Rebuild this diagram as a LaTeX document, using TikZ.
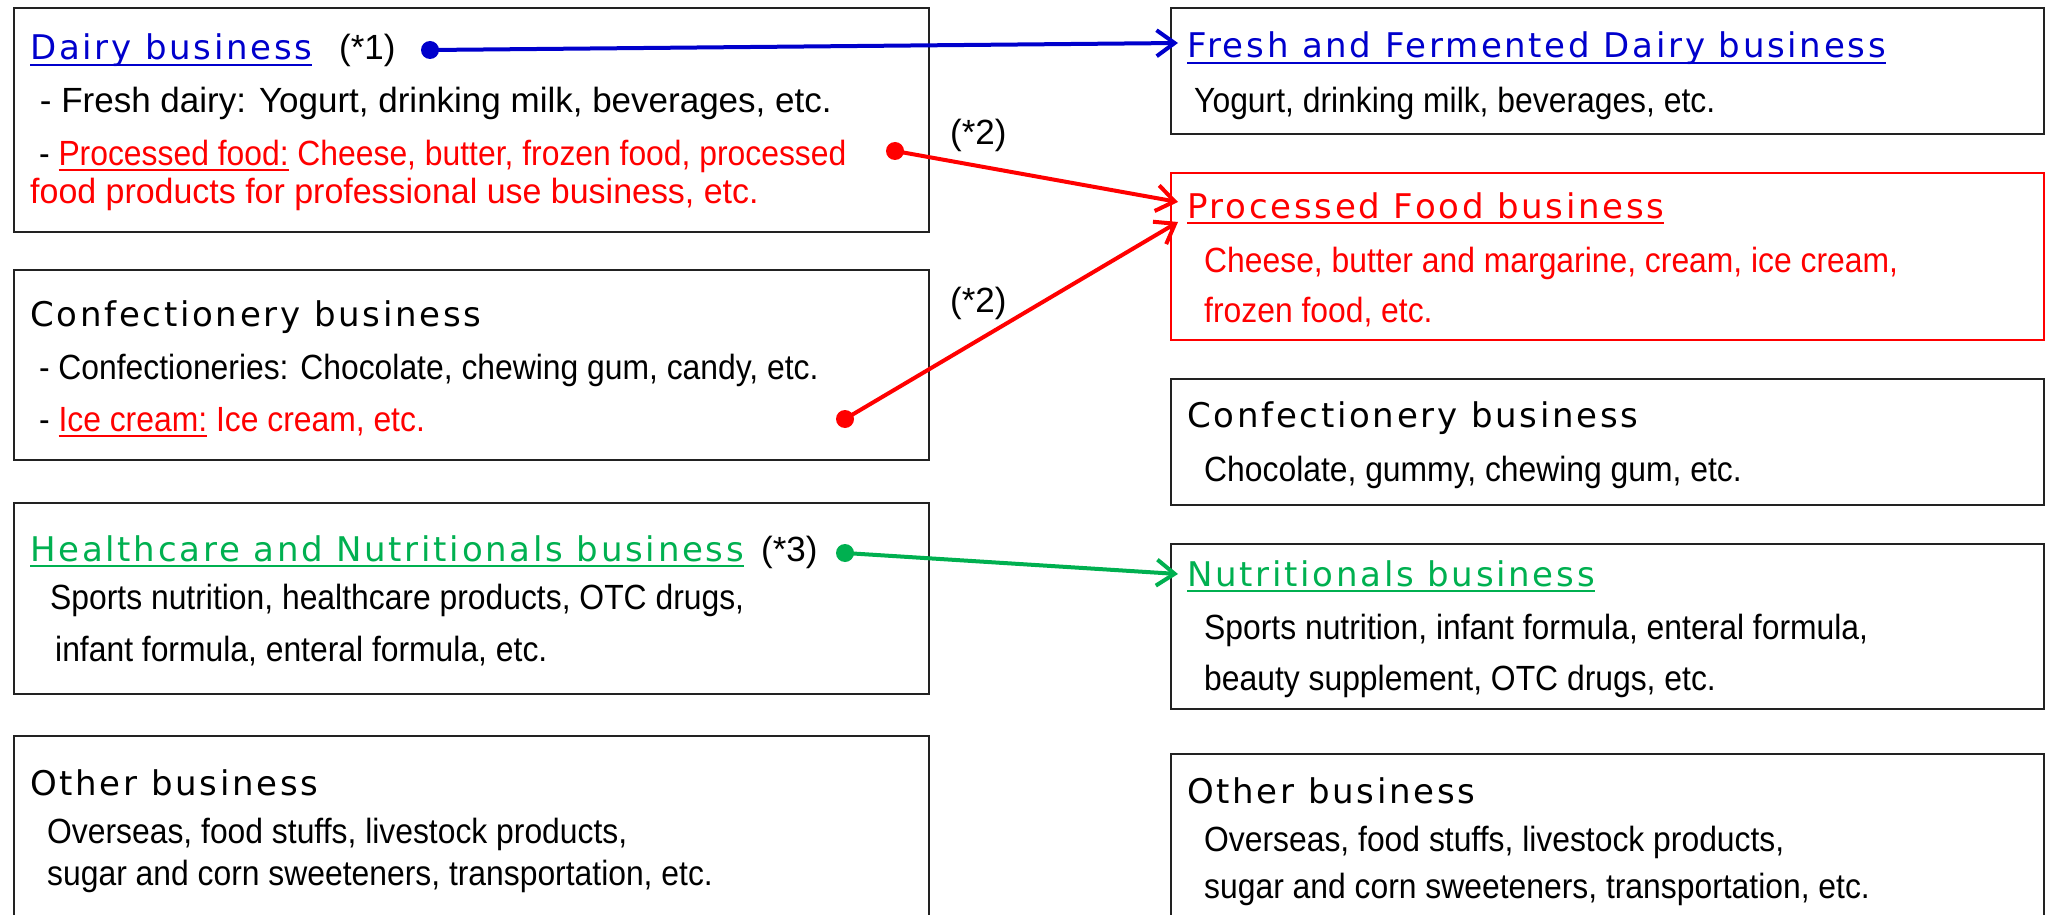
\documentclass[tikz,border=0pt]{standalone}
\usepackage{fontspec}
\setmainfont{Liberation Sans}[FakeStretch=0.91]
\newfontfamily\wfont{Liberation Sans}
\newfontfamily\mfont{Liberation Sans}[FakeStretch=0.97]
\newfontfamily\hfont{DejaVu Sans}[LetterSpace=8]
\usetikzlibrary{arrows.meta}
\definecolor{mblue}{RGB}{0,0,204}
\definecolor{mred}{RGB}{255,0,0}
\definecolor{mgreen}{RGB}{0,176,80}
\definecolor{border}{RGB}{34,34,34}
\newcommand\myul[1]{\setbox0=\hbox{#1}\rlap{\rule[-6pt]{\wd0}{2pt}}\box0\relax}
\begin{document}
\begin{tikzpicture}[x=1pt,y=-1pt,
 bx/.style={draw=border,line width=2pt,anchor=north west,minimum width=#1,inner sep=0},
 hd/.style={anchor=base west,inner sep=0,font=\hfont\fontsize{34}{40}\selectfont},
 tx/.style={anchor=base west,inner sep=0,font=\fontsize{35}{42}\selectfont},
 dot/.style={circle,fill,inner sep=0,minimum size=18pt},
 conn/.style={line width=4pt,-{Straight Barb[length=18pt,width=26pt]}}]
\useasboundingbox (0,0) rectangle (2046,915);
% left boxes
\node[bx=915pt,minimum height=224pt] (L1) at (13,7) {};
\node[bx=915pt,minimum height=190pt] (L2) at (13,269) {};
\node[bx=915pt,minimum height=191pt] (L3) at (13,502) {};
\node[bx=915pt,minimum height=220pt] (L4) at (13,735) {};
% right boxes
\node[bx=873pt,minimum height=126pt] (R1) at (1170,7) {};
\node[bx=873pt,minimum height=167pt,draw=mred] (R2) at (1170,172) {};
\node[bx=873pt,minimum height=126pt] (R3) at (1170,378) {};
\node[bx=873pt,minimum height=165pt] (R4) at (1170,543) {};
\node[bx=873pt,minimum height=200pt] (R5) at (1170,753) {};
% left texts
\node[hd,mblue] (h1) at (30,60) {\myul{Dairy business}};
\node[tx,font=\wfont\fontsize{35}{42}\selectfont] (n1) at (339,60) {(*1)};
\node[tx,font=\wfont\fontsize{35}{42}\selectfont] (l1a) at (30,113) {\ - Fresh dairy: Yogurt, drinking milk, beverages, etc.};
\node[tx,mred] (l1b) at (30,165) {\ \textcolor{black}{-} \myul{Processed food:} Cheese, butter, frozen food, processed};
\node[tx,mred,font=\mfont\fontsize{35}{42}\selectfont] (l1c) at (30,204) {food products for professional use business, etc.};
\node[hd] (h2) at (30,326) {Confectionery business};
\node[tx] (l2a) at (30,379) {\ - Confectioneries: Chocolate, chewing gum, candy, etc.};
\node[tx,mred] (l2b) at (30,431) {\ \textcolor{black}{-} \myul{Ice cream:} Ice cream, etc.};
\node[hd,mgreen] (h3) at (30,561) {\myul{Healthcare and Nutritionals business}};
\node[tx,font=\wfont\fontsize{35}{42}\selectfont] (n3) at (761,561) {(*3)};
\node[tx] (l3a) at (50,609) {Sports nutrition, healthcare products, OTC drugs,};
\node[tx] (l3b) at (55,661) {infant formula, enteral formula, etc.};
\node[hd] (h4) at (30,795) {Other business};
\node[tx] (l4a) at (47,843) {Overseas, food stuffs, livestock products,};
\node[tx] (l4b) at (47,885) {sugar and corn sweeteners, transportation, etc.};
% right texts
\node[hd,mblue] (rh1) at (1187,58) {\myul{Fresh and Fermented Dairy business}};
\node[tx] (r1a) at (1194,113) {Yogurt, drinking milk, beverages, etc.};
\node[hd,mred] (rh2) at (1187,218) {\myul{Processed Food business}};
\node[tx,mred] (r2a) at (1204,272) {Cheese, butter and margarine, cream, ice cream,};
\node[tx,mred] (r2b) at (1204,322) {frozen food, etc.};
\node[hd] (rh3) at (1187,427) {Confectionery business};
\node[tx] (r3a) at (1204,481) {Chocolate, gummy, chewing gum, etc.};
\node[hd,mgreen] (rh4) at (1187,586) {\myul{Nutritionals business}};
\node[tx] (r4a) at (1204,639) {Sports nutrition, infant formula, enteral formula,};
\node[tx] (r4b) at (1204,690) {beauty supplement, OTC drugs, etc.};
\node[hd] (rh5) at (1187,803) {Other business};
\node[tx] (r5a) at (1204,851) {Overseas, food stuffs, livestock products,};
\node[tx] (r5b) at (1204,898) {sugar and corn sweeteners, transportation, etc.};
% notes
\node[tx,font=\wfont\fontsize{35}{42}\selectfont] (n2a) at (950,145) {(*2)};
\node[tx,font=\wfont\fontsize{35}{42}\selectfont] (n2b) at (950,312) {(*2)};
% dots and targets
\node[dot,mblue] (d1) at (430,50) {};
\node[dot,mred] (d2) at (895,151) {};
\node[dot,mred] (d3) at (845,419) {};
\node[dot,mgreen] (d4) at (845,553) {};
\coordinate (t1) at (1178,43);
\coordinate (t2) at (1178,202);
\coordinate (t3) at (1178,222);
\coordinate (t4) at (1178,574);
\draw[conn,mblue] (d1.center) -- (t1);
\draw[conn,mred] (d2.center) -- (t2);
\draw[conn,mred] (d3.center) -- (t3);
\draw[conn,mgreen] (d4.center) -- (t4);
\end{tikzpicture}
\end{document}
